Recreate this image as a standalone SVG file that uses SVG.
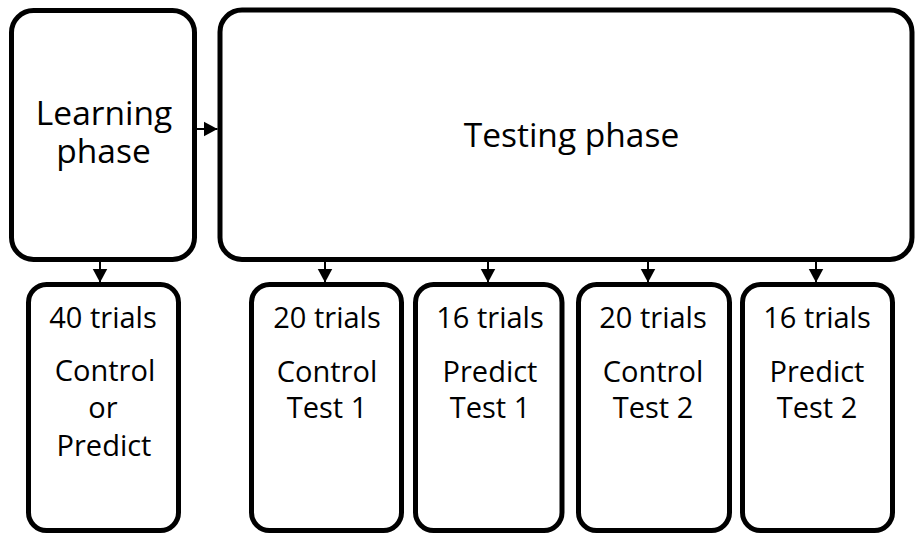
<svg xmlns="http://www.w3.org/2000/svg" width="915" height="536" viewBox="0 0 915 536">
  <style>
    .box { fill: #ffffff; stroke: #000000; stroke-width: 5; }
    .big { font-family: "Open Sans", "Noto Sans", sans-serif; font-size: 33.5px; fill: #000000; text-anchor: middle; }
    .sm { font-family: "Open Sans", "Noto Sans", sans-serif; font-size: 29px; fill: #000000; text-anchor: middle; }
    .conn { stroke: #000000; stroke-width: 2; fill: none; }
  </style>
  <defs>
    <marker id="ah" markerUnits="userSpaceOnUse" markerWidth="14" markerHeight="16" viewBox="0 0 14 16" refX="14" refY="8" orient="auto">
      <path d="M0,0.5 L14,8 L0,15.5 Z" fill="#000000"/>
    </marker>
  </defs>
  <rect width="915" height="536" fill="#ffffff"/>

  <g id="learning">
    <rect class="box" x="11.5" y="10.5" width="183" height="249" rx="22" ry="22"/>
    <text class="big" x="104" y="125">Learning</text>
    <text class="big" x="103.5" y="163">phase</text>
  </g>

  <g id="testing">
    <rect class="box" x="220" y="10" width="692" height="249.5" rx="22" ry="22"/>
    <text class="big" x="571.5" y="147">Testing phase</text>
  </g>

  <g id="learn-trials">
    <rect class="box" x="28.5" y="284.5" width="150" height="246" rx="18" ry="18"/>
    <text class="sm" x="103" y="328">40 trials</text>
    <text class="sm" x="105" y="381">Control</text>
    <text class="sm" x="103" y="418">or</text>
    <text class="sm" x="104" y="456">Predict</text>
  </g>

  <g id="control-test-1">
    <rect class="box" x="251.5" y="284.5" width="150" height="246" rx="18" ry="18"/>
    <text class="sm" x="327" y="328">20 trials</text>
    <text class="sm" x="327" y="382">Control</text>
    <text class="sm" x="327" y="418">Test 1</text>
  </g>

  <g id="predict-test-1">
    <rect class="box" x="415.5" y="284.5" width="146.5" height="246" rx="18" ry="18"/>
    <text class="sm" x="490" y="328">16 trials</text>
    <text class="sm" x="490" y="382">Predict</text>
    <text class="sm" x="490" y="418">Test 1</text>
  </g>

  <g id="control-test-2">
    <rect class="box" x="578.5" y="284.5" width="151" height="246" rx="18" ry="18"/>
    <text class="sm" x="653" y="328">20 trials</text>
    <text class="sm" x="653" y="382">Control</text>
    <text class="sm" x="653" y="418">Test 2</text>
  </g>

  <g id="predict-test-2">
    <rect class="box" x="742.5" y="284.5" width="150" height="246" rx="18" ry="18"/>
    <text class="sm" x="817" y="328">16 trials</text>
    <text class="sm" x="817" y="382">Predict</text>
    <text class="sm" x="817" y="418">Test 2</text>
  </g>

  <g id="connectors">
    <line class="conn" x1="197" y1="129" x2="217.5" y2="129" marker-end="url(#ah)"/>
    <line class="conn" x1="100" y1="262" x2="100" y2="282.5" marker-end="url(#ah)"/>
    <line class="conn" x1="325" y1="262" x2="325" y2="282.5" marker-end="url(#ah)"/>
    <line class="conn" x1="488" y1="262" x2="488" y2="282.5" marker-end="url(#ah)"/>
    <line class="conn" x1="648" y1="262" x2="648" y2="282.5" marker-end="url(#ah)"/>
    <line class="conn" x1="816" y1="262" x2="816" y2="282.5" marker-end="url(#ah)"/>
  </g>
</svg>
